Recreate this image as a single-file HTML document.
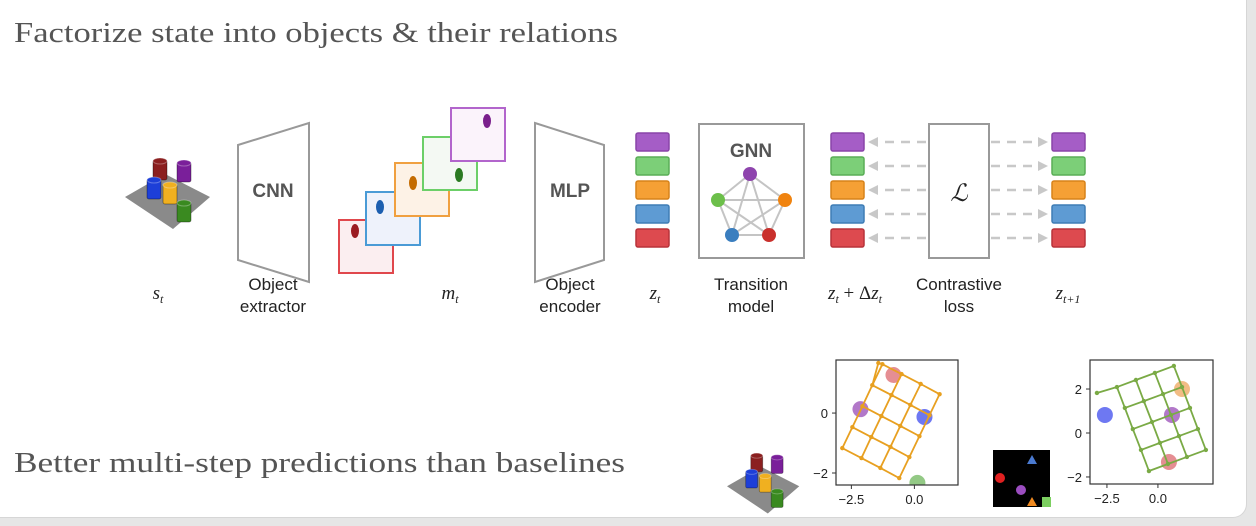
<!DOCTYPE html>
<html><head><meta charset="utf-8"><style>
html,body{margin:0;padding:0;width:1256px;height:526px;background:#e6e6e6;overflow:hidden}
#card{position:absolute;left:0;top:0;width:1246px;height:517px;background:#fff;border-right:1px solid #d6d6d6;border-bottom:1px solid #d6d6d6;border-bottom-right-radius:14px}
svg{position:absolute;left:0;top:0}
.lab{font-family:"Liberation Sans",sans-serif;font-size:17px;fill:#222;text-anchor:middle}
.big{font-family:"Liberation Sans",sans-serif;font-size:19px;font-weight:bold;fill:#555;text-anchor:middle}
.math{font-family:"Liberation Serif",serif;font-style:italic;font-size:19px;fill:#222;text-anchor:middle}
.tick{font-family:"Liberation Sans",sans-serif;font-size:13px;fill:#222}
.ttl{font-family:"Liberation Serif",serif;font-size:29px;fill:#555}
</style></head><body>
<div id="card"></div>
<svg id="s" width="1256" height="526">
<text class="ttl" x="14" y="42" textLength="604" lengthAdjust="spacingAndGlyphs">Factorize state into objects &amp; their relations</text>
<text class="ttl" x="14" y="472" textLength="611" lengthAdjust="spacingAndGlyphs">Better multi-step predictions than baselines</text>

<g><polygon points="238,145 309,123 309,282 238,260" fill="#fff" stroke="#999" stroke-width="2"/><text class="big" x="273" y="197">CNN</text></g>
<g><polygon points="535,123 604,145 604,260 535,282" fill="#fff" stroke="#999" stroke-width="2"/><text class="big" x="570" y="197">MLP</text></g>
<text class="lab" x="273" y="290">Object</text>
<text class="lab" x="273" y="312">extractor</text>
<text class="lab" x="570" y="290">Object</text>
<text class="lab" x="570" y="312">encoder</text>
<text class="math" x="158" y="299">s<tspan font-size="12" dy="4">t</tspan></text>
<text class="math" x="450" y="299">m<tspan font-size="12" dy="4">t</tspan></text>
<text class="math" x="655" y="299">z<tspan font-size="12" dy="4">t</tspan></text>
<text class="math" x="855" y="299">z<tspan font-size="12" dy="4">t</tspan><tspan dy="-4" font-style="normal"> + Δ</tspan>z<tspan font-size="12" dy="4">t</tspan></text>
<text class="math" x="1068" y="299">z<tspan font-size="12" dy="4">t+1</tspan></text>

<g><rect x="699" y="124" width="105" height="134" fill="#fff" stroke="#999" stroke-width="2"/><text class="big" x="751" y="157" font-size="17">GNN</text></g>
<text class="lab" x="751" y="290">Transition</text>
<text class="lab" x="751" y="312">model</text>
<g><rect x="929" y="124" width="60" height="134" fill="#fff" stroke="#999" stroke-width="2"/><text x="959" y="201" font-family="Liberation Serif,serif" font-style="italic" font-size="24" text-anchor="middle" fill="#222">ℒ</text></g>
<text class="lab" x="959" y="290">Contrastive</text>
<text class="lab" x="959" y="312">loss</text>
<g id="dyn"></g>
</svg>
<script>
var NS='http://www.w3.org/2000/svg';
var svg=document.getElementById('dyn');
function mk(t,a,p){var e=document.createElementNS(NS,t);for(var k in a)e.setAttribute(k,a[k]);(p||svg).appendChild(e);return e;}
var slotColors=['#a55dc6','#7ccf78','#f5a035','#5e9bd3','#dd4a4f'];
var slotBorders=['#8a45a8','#5aae57','#d7821a','#3f7db5','#b8333a'];
var slotRowsY=[133,157,181,205,229];
var slotCols=[636,831,1052];
slotCols.forEach(function(x,c){
  slotRowsY.forEach(function(y,i){
    var r=mk('rect',{x:x,y:y,width:33,height:18,rx:2,fill:slotColors[i],stroke:slotBorders[i],'stroke-width':1.5});
    
    
    if(c>0){
      var y2=y+9, x1=(c==1)?926:991, x2=(c==1)?868:1048;
      var l=mk('line',{x1:x1,y1:y2,x2:(c==1)?x2+8:x2-8,y2:y2,stroke:'#c8c8c8','stroke-width':2.5,'stroke-dasharray':'9 7'});
      
      
      var p=(c==1)?(x2)+','+y2+' '+(x2+10)+','+(y2-5)+' '+(x2+10)+','+(y2+5):(x2)+','+y2+' '+(x2-10)+','+(y2-5)+' '+(x2-10)+','+(y2+5);
      var h=mk('polygon',{points:p,fill:'#c8c8c8'});
      
      
    }
  });
});
var gnnX=[750,785,769,732,718], gnnY=[174,200,235,235,200];
var gnnC=['#8e44ad','#f0830f','#c9302c','#3a7ebf','#6cbf4a'];
for(var i=0;i<5;i++)for(var j=i+1;j<5;j++){var e=mk('line',{x1:gnnX[i],y1:gnnY[i],x2:gnnX[j],y2:gnnY[j],stroke:'#c4c4c4','stroke-width':2});
 }
for(var i=0;i<5;i++){var n=mk('circle',{cx:gnnX[i],cy:gnnY[i],r:7,fill:gnnC[i]});
 }
var maskX=[339,366,395,423,451], maskY=[220,192,163,137,108];
var maskC=['#e0474c','#4a9bd6','#f0a040','#6ccf68','#b265cc'];
var maskFill=['#fbeef0','#eef2fb','#fdf2e6','#f4f9f3','#fbf3fb'];
var blobC=['#9b1c22','#1c5fb0','#c46b00','#2b7a22','#7a1f8c'];
var blobDX=[16,14,18,36,36], blobDY=[11,15,20,38,13];
for(var i=0;i<5;i++){var r=mk('rect',{x:maskX[i],y:maskY[i],width:54,height:53,fill:maskFill[i],stroke:maskC[i],'stroke-width':2});
 
 var b=mk('ellipse',{cx:maskX[i]+blobDX[i],cy:maskY[i]+blobDY[i],rx:4,ry:7,fill:blobC[i]});
 }
function scene(ox,oy,s,name){
  var g=mk('g',{transform:'translate('+ox+','+oy+') scale('+s+')'});
  
  mk('polygon',{points:'0,45 40,22 85,45 48,77',fill:'#8a8a8a'},g);
  var cubes=[[28,8,'#8b2020'],[52,10,'#7a1f9a'],[22,27,'#1d3fd8'],[38,32,'#f0b020'],[52,50,'#3a8a20']];
  cubes.forEach(function(c){mk('rect',{x:c[0],y:c[1],width:14,height:20,rx:2,fill:c[2],stroke:'rgba(0,0,0,.35)'},g);
   mk('ellipse',{cx:c[0]+7,cy:c[1]+1,rx:7,ry:3,fill:c[2],stroke:'rgba(255,255,255,.3)'},g);});
}
scene(125,152,1.0,'scene-image-top');
scene(727,448,0.85,'scene-image-bottom');
var bk=mk('rect',{x:993,y:450,width:57,height:57,fill:'#000'});
mk('circle',{cx:1000,cy:478,r:5,fill:'#e02020'});mk('circle',{cx:1021,cy:490,r:5,fill:'#9b4dc0'});
mk('polygon',{points:'1032,455 1027,464 1037,464',fill:'#4a7ad0'});mk('polygon',{points:'1032,497 1027,506 1037,506',fill:'#f08a20'});
mk('rect',{x:1042,y:497,width:9,height:10,fill:'#7ccf60'});

var p1Xticks=[-2.5,0.0], p1Yticks=[0,-2];
var p1Rows=[
 [[-2.86,-1.17],[-2.10,-1.50],[-1.35,-1.83],[-0.60,-2.17]],
 [[-2.46,-0.47],[-1.71,-0.80],[-0.95,-1.13],[-0.20,-1.47]],
 [[-2.06,0.23],[-1.31,-0.10],[-0.56,-0.43],[0.20,-0.77]],
 [[-1.67,0.93],[-0.91,0.60],[-0.16,0.27],[0.60,-0.07]],
 [[-1.27,1.63],[-0.51,1.30],[0.25,0.97],[1.00,0.63]]];
var p1Tail=[[-1.43,1.67],[-1.67,0.93]];
var p1DotX=[-0.83,-2.14,0.40,0.12], p1DotY=[1.27,0.13,-0.13,-2.33];
var p1DotC=['#e07a80','#a560c0','#5560f0','#80c070'];
var p2Xticks=[-2.5,0.0], p2Yticks=[2,0,-2];
var p2Rows=[
 [[-2.01,2.09],[-1.08,2.41],[-0.15,2.73],[0.78,3.05]],
 [[-1.62,1.14],[-0.69,1.45],[0.25,1.77],[1.18,2.09]],
 [[-1.23,0.18],[-0.29,0.50],[0.64,0.82],[1.57,1.14]],
 [[-0.83,-0.77],[0.10,-0.45],[1.03,-0.14],[1.96,0.18]],
 [[-0.44,-1.73],[0.49,-1.41],[1.42,-1.09],[2.35,-0.77]]];
var p2Tail=[[-2.99,1.82],[-2.01,2.09]];
var p2DotX=[1.18,-2.60,0.69,0.54], p2DotY=[2.00,0.82,0.82,-1.32];
var p2DotC=['#f0b070','#5560f0','#a560c0','#e07a80'];

function plot(cfg){
  var box=cfg.box, sx=function(v){return box[0]+(v-cfg.xr[0])/(cfg.xr[1]-cfg.xr[0])*(box[2]-box[0]);},
      sy=function(v){return box[3]-(v-cfg.yr[0])/(cfg.yr[1]-cfg.yr[0])*(box[3]-box[1]);};
  var g=mk('g',{});
  var cid='clip'+cfg.name;var cp=mk('clipPath',{id:cid},g);mk('rect',{x:box[0],y:box[1],width:box[2]-box[0],height:box[3]-box[1]},cp);
  var inner=mk('g',{'clip-path':'url(#'+cid+')'},g);
  for(var i=0;i<cfg.dx.length;i++){var c=mk('circle',{cx:sx(cfg.dx[i]),cy:sy(cfg.dy[i]),r:8,fill:cfg.dc[i],opacity:0.85},inner);
    }
  var R=cfg.rows;
  function seg(a,b){var l=mk('line',{x1:sx(a[0]),y1:sy(a[1]),x2:sx(b[0]),y2:sy(b[1]),stroke:cfg.col,'stroke-width':1.8},inner);
    }
  for(var r=0;r<R.length;r++)for(var c=0;c<R[r].length;c++){
    if(c+1<R[r].length)seg(R[r][c],R[r][c+1]);
    if(r+1<R.length)seg(R[r][c],R[r+1][c]);}
  seg(cfg.tail[0],cfg.tail[1]);
  var pts=[].concat.apply([],R).concat([cfg.tail[0]]);
  pts.forEach(function(p){var d=mk('circle',{cx:sx(p[0]),cy:sy(p[1]),r:2.2,fill:cfg.col},inner);
    });
  var f=mk('rect',{x:box[0],y:box[1],width:box[2]-box[0],height:box[3]-box[1],fill:'none',stroke:'#333','stroke-width':1.2},g);
  
  cfg.xt.forEach(function(v){mk('line',{x1:sx(v),y1:box[3],x2:sx(v),y2:box[3]+4,stroke:'#333'},g);
    var t=mk('text',{x:sx(v),y:box[3]+19,'text-anchor':'middle','class':'tick'},g);t.textContent=v.toFixed(1).replace('-','−');
    });
  cfg.yt.forEach(function(v){mk('line',{x1:box[0]-4,y1:sy(v),x2:box[0],y2:sy(v),stroke:'#333'},g);
    var t=mk('text',{x:box[0]-8,y:sy(v)+5,'text-anchor':'end','class':'tick'},g);t.textContent=String(v).replace('-','−');
    });
}
plot({name:'embedding-plot-baseline',box:[836,360,958,485],xr:[-3.11,1.73],yr:[-2.4,1.77],rows:p1Rows,tail:p1Tail,col:'#e8a020',
  dx:p1DotX,dy:p1DotY,dc:p1DotC,xt:p1Xticks,yt:p1Yticks});
plot({name:'embedding-plot-cswm',box:[1090,360,1213,484],xr:[-3.33,2.7],yr:[-2.32,3.32],rows:p2Rows,tail:p2Tail,col:'#7aaa45',
  dx:p2DotX,dy:p2DotY,dc:p2DotC,xt:p2Xticks,yt:p2Yticks});
</script>
</body></html>
